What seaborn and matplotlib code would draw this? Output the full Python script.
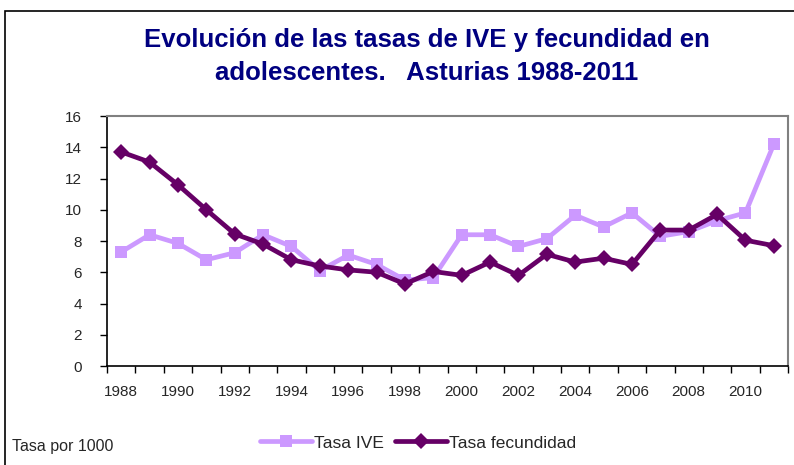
import pandas as pd
import seaborn as sns
import matplotlib.pyplot as plt
from matplotlib.patches import Rectangle

years = list(range(1988, 2012))
tasa_ive = [7.3, 8.4, 7.85, 6.8, 7.25, 8.4, 7.65, 6.1, 7.1, 6.5, 5.5, 5.65,
            8.4, 8.4, 7.65, 8.15, 9.65, 8.9, 9.8, 8.3, 8.6, 9.3, 9.8, 14.2]
tasa_fec = [13.7, 13.05, 11.6, 10.0, 8.45, 7.8, 6.8, 6.4, 6.15, 6.0, 5.25, 6.05,
            5.8, 6.65, 5.8, 7.15, 6.65, 6.9, 6.5, 8.7, 8.7, 9.7, 8.05, 7.7]
series = ["Tasa IVE", "Tasa fecundidad"]
colores = ["#CC99FF", "#660066"]

df = pd.DataFrame({"pos": list(range(len(years))) * 2,
                   "valor": tasa_ive + tasa_fec,
                   "serie": [series[0]] * len(years) + [series[1]] * len(years)})

sns.set_style("white")
plt.rcParams["font.family"] = ["Liberation Sans", "DejaVu Sans"]

fig = plt.figure(figsize=(7.94, 4.65), dpi=100)
ax = fig.add_axes([107 / 794, 1 - 366 / 465, 681 / 794, 250 / 465])

sns.lineplot(data=df, x="pos", y="valor", hue="serie", style="serie",
             palette=colores, markers=["s", "D"], dashes=False,
             linewidth=3.4, markersize=8.5, markeredgewidth=0, ax=ax, legend=False)

ax.set_xlim(-0.5, len(years) - 0.5)
ax.set_ylim(0, 16)
ax.set_yticks(range(0, 17, 2))
ax.set_xticks(range(0, len(years), 2))
ax.set_xticklabels([str(y) for y in years[::2]])
ax.set_xticks([i - 0.5 for i in range(len(years) + 1)], minor=True)
ax.tick_params(axis="x", which="major", length=0, pad=14, labelsize=11)
ax.tick_params(axis="x", which="minor", length=5, width=1, color="black", direction="out", bottom=True)
ax.tick_params(axis="y", length=5, width=1, color="black", direction="out", left=True, labelsize=11, pad=13)
ax.set_xlabel("")
ax.set_ylabel("")

for side in ["top", "right"]:
    ax.spines[side].set_color("#808080")
    ax.spines[side].set_linewidth(1.5)
for side in ["left", "bottom"]:
    ax.spines[side].set_color("black")
    ax.spines[side].set_linewidth(1.2)

# marco exterior
fig.patches.append(Rectangle((5 / 794, -0.05), 1.2, 1 - 11 / 465 + 0.05,
                             transform=fig.transFigure, fill=False,
                             edgecolor="black", linewidth=1.2))

fig.text(427 / 794, 1 - 40 / 465, "Evolución de las tasas de IVE y fecundidad en",
         ha="center", va="center", fontsize=18.5, fontweight="bold", color="#000080")
fig.text(427 / 794, 1 - 73 / 465, "adolescentes.   Asturias 1988-2011",
         ha="center", va="center", fontsize=18.5, fontweight="bold", color="#000080")

fig.text(12 / 794, 1 - 446 / 465, "Tasa por 1000", ha="left", va="center", fontsize=11.5)

handles = [plt.Line2D([], [], color=c, marker=m, linewidth=3.4, markersize=8.5, markeredgewidth=0)
           for c, m in zip(colores, ["s", "D"])]
fig.legend(handles, series, loc="center", bbox_to_anchor=(418 / 794, 1 - 443 / 465),
           ncol=2, frameon=False, fontsize=12.5, handlelength=3.0, handletextpad=0.15,
           columnspacing=0.6)

fig.savefig("out.png", dpi=100)
